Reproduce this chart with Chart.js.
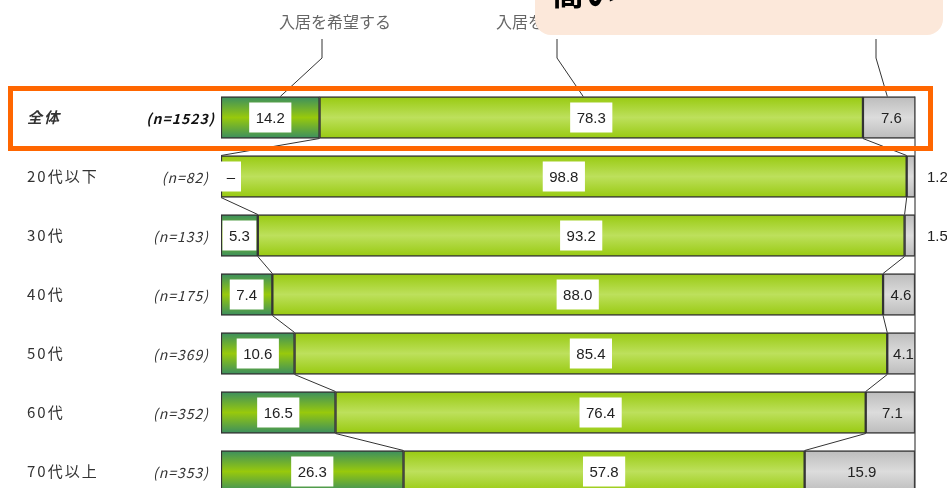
<!DOCTYPE html>
<html>
<head>
<meta charset="utf-8">
<script src="https://cdn.jsdelivr.net/npm/chart.js@4/dist/chart.umd.min.js"></script>
<style>
  html, body { margin: 0; padding: 0; background: #fff; overflow: hidden; }
  #wrap { position: relative; width: 947px; height: 510px; }
</style>
</head>
<body>
<div id="wrap"><canvas id="chart"></canvas></div>
<script>
// data
const categories = ['全体', '20代以下', '30代', '40代', '50代', '60代', '70代以上'];
const sampleSizes = ['(n=1523)', '(n=82)', '(n=133)', '(n=175)', '(n=369)', '(n=352)', '(n=353)'];
const seriesLabels = ['入居を希望する', '入居を希望しない', '無回答'];
const wantIn = [14.2, 0, 5.3, 7.4, 10.6, 16.5, 26.3];
const notWantIn = [78.3, 98.8, 93.2, 88.0, 85.4, 76.4, 57.8];
const noAnswer = [7.6, 1.2, 1.5, 4.6, 4.1, 7.1, 15.9];
const calloutText = '高い';

const BAR = 42;

// vertical gradient per bar: dark at edges, light in the middle
function barGradient(edge, mid, fallback) {
  return (ctx) => {
    const chart = ctx.chart;
    const y = chart.scales.y;
    if (!chart.chartArea || !y || ctx.dataIndex === undefined) return fallback;
    const c = y.getPixelForValue(ctx.dataIndex);
    const g = chart.ctx.createLinearGradient(0, c - BAR / 2, 0, c + BAR / 2);
    g.addColorStop(0, edge);
    g.addColorStop(0.5, mid);
    g.addColorStop(1, edge);
    return g;
  };
}

const valueFont = "15px 'Liberation Sans Narrow', 'Liberation Sans', Arial, sans-serif";
const jpFont = "'Noto Sans CJK JP', 'Noto Sans', sans-serif";

const decorPlugin = {
  id: 'decor',
  beforeDraw(chart) {
    // wider spacing for the category tick labels
    chart.ctx.letterSpacing = '2px';
  },
  afterDatasetsDraw(chart) {
    const { ctx, chartArea, scales } = chart;
    const m0 = chart.getDatasetMeta(0).data;
    const m1 = chart.getDatasetMeta(1).data;
    const m2 = chart.getDatasetMeta(2).data;
    ctx.save();
    ctx.letterSpacing = '0px';

    // right frame line at 100%
    const xr = scales.x.getPixelForValue(100);
    ctx.strokeStyle = '#444';
    ctx.lineWidth = 1.2;
    ctx.beginPath();
    ctx.moveTo(xr, m0[0].y - BAR / 2);
    ctx.lineTo(xr, chartArea.bottom);
    ctx.stroke();

    // connectors between rows
    ctx.strokeStyle = '#333';
    ctx.lineWidth = 1;
    for (let i = 0; i < categories.length - 1; i++) {
      [m0, m1].forEach(meta => {
        const a = meta[i], b = meta[i + 1];
        ctx.beginPath();
        ctx.moveTo(a.x, a.y + BAR / 2);
        ctx.lineTo(b.x, b.y - BAR / 2);
        ctx.stroke();
      });
    }

    // value labels
    ctx.font = valueFont;
    ctx.textAlign = 'center';
    ctx.textBaseline = 'middle';
    categories.forEach((_, i) => {
      // first two series: white box
      [[m0, wantIn], [m1, notWantIn]].forEach(([meta, vals]) => {
        const el = meta[i];
        const txt = vals[i] === 0 ? '–' : vals[i].toFixed(1);
        const w = vals[i] === 0 ? 20 : ctx.measureText(txt).width + 13;
        let cx = (el.x + el.base) / 2;
        if (cx - w / 2 < el.base) cx = el.base + w / 2;
        ctx.fillStyle = '#fff';
        ctx.fillRect(cx - w / 2, el.y - 15, w, 30);
        ctx.fillStyle = '#222';
        ctx.fillText(txt, cx, el.y + 1);
      });
      // no answer
      const el = m2[i];
      ctx.fillStyle = '#222';
      if (noAnswer[i] < 3) {
        ctx.textAlign = 'left';
        ctx.fillText(noAnswer[i].toFixed(1), xr + 12, el.y + 1);
        ctx.textAlign = 'center';
      } else {
        ctx.fillText(noAnswer[i].toFixed(1), (el.x + el.base) / 2 + 2, el.y + 1);
      }
    });

    // sample sizes
    ctx.textAlign = 'right';
    ctx.letterSpacing = '1px';
    sampleSizes.forEach((s, i) => {
      const y = scales.y.getPixelForValue(i);
      if (i === 0) {
        ctx.font = 'italic bold 14px ' + jpFont;
        ctx.fillStyle = '#111';
        ctx.fillText(s, chartArea.left - 6, y + 1);
      } else {
        ctx.font = 'italic 14px ' + jpFont;
        ctx.fillStyle = '#333';
        ctx.fillText(s, chartArea.left - 12, y + 1);
      }
    });
    ctx.letterSpacing = '0px';

    // series labels with leader lines to the first bar
    const top = m0[0].y - BAR / 2;
    const leaders = [
      { label: seriesLabels[0], tx: 335, lx: 322, el: m0[0], dx: 10 },
      { label: seriesLabels[1], tx: 560, lx: 557, el: m1[0], dx: -8 },
      { label: seriesLabels[2], tx: 876, lx: 876, el: m2[0], dx: -2 }
    ];
    ctx.strokeStyle = '#333';
    ctx.lineWidth = 1;
    leaders.forEach(l => {
      const ex = (l.el.x + l.el.base) / 2 + l.dx;
      ctx.beginPath();
      ctx.moveTo(l.lx, 39);
      ctx.lineTo(l.lx, 58);
      ctx.lineTo(ex, top);
      ctx.stroke();
      ctx.font = '16px ' + jpFont;
      ctx.fillStyle = '#666';
      ctx.textAlign = 'center';
      ctx.fillText(l.label, l.tx, 22);
    });

    // highlight frame around the total row
    const y0 = scales.y.getPixelForValue(0);
    ctx.strokeStyle = '#ff6600';
    ctx.lineWidth = 5;
    ctx.strokeRect(10.5, y0 - 29, 920, 60);

    // callout box at the top
    ctx.fillStyle = '#fce8da';
    ctx.beginPath();
    ctx.roundRect(535, -40, 408, 75, 16);
    ctx.fill();
    ctx.fillStyle = '#000';
    ctx.font = 'bold 32px ' + jpFont;
    ctx.textAlign = 'left';
    ctx.textBaseline = 'alphabetic';
    ctx.fillText(calloutText, 552, 5);

    ctx.restore();
  },
  afterDraw(chart) {
    chart.ctx.letterSpacing = '0px';
  }
};

new Chart(document.getElementById('chart'), {
  type: 'bar',
  plugins: [decorPlugin],
  data: {
    labels: categories,
    datasets: [
      { label: seriesLabels[0], data: wantIn, backgroundColor: barGradient('#3a8e60', '#98c90c', '#6aac36') },
      { label: seriesLabels[1], data: notWantIn, backgroundColor: barGradient('#98ca10', '#bde05c', '#a8d530') },
      { label: seriesLabels[2], data: noAnswer, backgroundColor: barGradient('#bcbcbc', '#dcdcdc', '#cccccc') }
    ]
  },
  options: {
    indexAxis: 'y',
    responsive: true,
    maintainAspectRatio: false,
    animation: false,
    barThickness: BAR,
    borderColor: '#333',
    borderWidth: 1.5,
    borderSkipped: false,
    layout: { padding: { left: 27, right: 32, top: 88, bottom: 9 } },
    plugins: { legend: false, tooltip: false },
    scales: {
      x: { stacked: true, min: 0, max: 100, display: false },
      y: {
        stacked: true,
        grid: { display: false, drawTicks: false },
        border: { display: false },
        afterFit: (scale) => { scale.width = 194; },
        ticks: {
          crossAlign: 'far',
          padding: 0,
          color: '#333',
          font: (ctx) => ctx.index === 0
            ? { family: jpFont, size: 15, weight: 'bold', style: 'italic' }
            : { family: jpFont, size: 15, weight: 'normal' }
        }
      }
    }
  }
});
</script>
</body>
</html>
